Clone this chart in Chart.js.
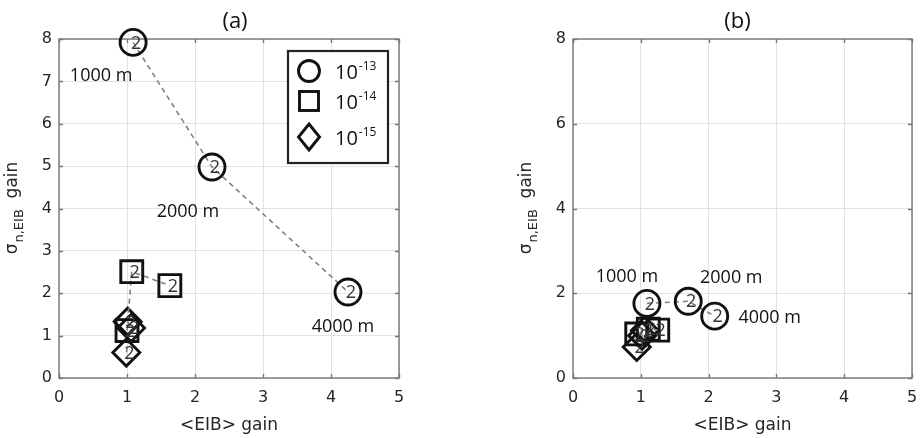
<!DOCTYPE html>
<html>
<head>
<meta charset="utf-8">
<script src="https://cdn.jsdelivr.net/npm/chart.js@4/dist/chart.umd.min.js"></script>
<style>
  html, body { margin: 0; padding: 0; background: #fff; }
  #wrap { position: relative; width: 921px; height: 438px; overflow: hidden; }
  canvas { position: absolute; top: 0; }
  #chartA { left: 0; }
  #chartB { left: 460px; }
</style>
</head>
<body>
<div id="wrap">
  <canvas id="chartA" width="460" height="438"></canvas>
  <canvas id="chartB" width="461" height="438"></canvas>
</div>
<script>
// ---- data ----
const distanceLabels = ['1000 m', '2000 m', '4000 m'];
const legendBase = '10';
const legendExponents = ['-13', '-14', '-15'];
const markerTag = '2';
const xTickValues = [0, 1, 2, 3, 4, 5];

// panel (a)
const aCircleX  = [1.09, 2.25, 4.25];
const aCircleY  = [7.92, 4.98, 2.03];
const aSquareX  = [1.00, 1.07, 1.63];
const aSquareY  = [1.12, 2.51, 2.18];
const aDiamondX = [1.01, 1.06, 0.99];
const aDiamondY = [1.33, 1.18, 0.60];
const aYStep = 1;

// panel (b)
const bCircleX  = [1.09, 1.70, 2.09];
const bCircleY  = [1.76, 1.81, 1.46];
const bSquareX  = [0.94, 1.11, 1.25];
const bSquareY  = [1.04, 1.15, 1.13];
const bDiamondX = [0.94, 1.02, 1.06];
const bDiamondY = [0.73, 1.00, 1.12];
const bYStep = 2;

// ---- styling / layout ----
const tickFont = { family: 'DejaVu Sans', size: 16 };
const titleFont = { family: 'DejaVu Sans', size: 17 };
const textColor = '#262626';
const boxColor = '#777777';
const gridColor = '#e2e2e2';
const labelOffsetsA = [[-32, 33], [-24, 45], [-5, 35]];
const labelOffsetsB = [[-20, -27], [43, -23], [55, 2]];

function pts(xs, ys) { return xs.map((x, i) => ({ x, y: ys[i] })); }

function series(xs, ys, style, radius) {
  return {
    data: pts(xs, ys),
    showLine: true,
    borderColor: '#808080',
    borderWidth: 1.6,
    borderDash: [5, 4],
    pointStyle: style,
    pointRadius: radius,
    pointHoverRadius: radius,
    pointBorderColor: '#111',
    pointBorderWidth: 2.9,
    pointBackgroundColor: 'rgba(255,255,255,0)',
    fill: false,
    clip: false
  };
}

// box, inward tick marks, title, y-axis title
const frame = {
  id: 'frame',
  beforeDatasetsDraw(chart, args, opts) {
    const { ctx, chartArea: a, scales } = chart;
    ctx.save();
    ctx.strokeStyle = boxColor;
    ctx.lineWidth = 1.4;
    ctx.strokeRect(a.left, a.top, a.right - a.left, a.bottom - a.top);
    ctx.beginPath();
    scales.x.ticks.forEach(t => {
      const px = Math.round(scales.x.getPixelForValue(t.value)) + 0.5;
      ctx.moveTo(px, a.bottom); ctx.lineTo(px, a.bottom - 4);
      ctx.moveTo(px, a.top); ctx.lineTo(px, a.top + 4);
    });
    scales.y.ticks.forEach(t => {
      const py = Math.round(scales.y.getPixelForValue(t.value)) + 0.5;
      ctx.moveTo(a.left, py); ctx.lineTo(a.left + 4, py);
      ctx.moveTo(a.right, py); ctx.lineTo(a.right - 4, py);
    });
    ctx.stroke();
    ctx.restore();
  },
  afterDraw(chart, args, opts) {
    const { ctx, chartArea: a } = chart;
    ctx.save();
    // panel title
    ctx.fillStyle = '#111';
    ctx.font = '22px "Open Sans"';
    ctx.textAlign = 'center';
    ctx.textBaseline = 'middle';
    ctx.fillText(opts.title, (a.left + a.right) / 2 + opts.titleShift, 22);
    // y-axis title: sigma_{n,EIB} gain, rotated
    const cy = (a.top + a.bottom) / 2;
    const cx = a.left - 42;
    ctx.translate(cx, cy);
    ctx.rotate(-Math.PI / 2);
    ctx.fillStyle = textColor;
    ctx.textAlign = 'left';
    ctx.textBaseline = 'alphabetic';
    const bigFont = '17px "DejaVu Sans"';
    const subFont = '13px "DejaVu Sans"';
    ctx.font = bigFont; const w1 = ctx.measureText('σ').width;
    ctx.font = subFont; const w2 = ctx.measureText('n,EIB').width;
    ctx.font = bigFont; const w3 = ctx.measureText('  gain').width;
    let x0 = -(w1 + w2 + w3) / 2;
    ctx.font = bigFont; ctx.fillText('σ', x0, 0); x0 += w1 + 1;
    ctx.font = subFont; ctx.fillText('n,EIB', x0, 6); x0 += w2;
    ctx.font = bigFont; ctx.fillText('  gain', x0, 0);
    ctx.restore();
  }
};

// tag inside each marker and distance labels next to the 10^-13 points
const annotate = {
  id: 'annotate',
  afterDatasetsDraw(chart, args, opts) {
    const { ctx } = chart;
    ctx.save();
    ctx.textBaseline = 'middle';
    ctx.textAlign = 'center';
    chart.data.datasets.forEach((ds, di) => {
      chart.getDatasetMeta(di).data.forEach(p => {
        ctx.font = '18px "Open Sans"';
        ctx.fillStyle = '#333';
        ctx.fillText(markerTag, p.x + 3, p.y + 1);
      });
    });
    const circles = chart.getDatasetMeta(0).data;
    ctx.font = '18px "Open Sans"';
    ctx.fillStyle = '#111';
    circles.forEach((p, i) => {
      const off = opts.offsets[i];
      ctx.fillText(distanceLabels[i], p.x + off[0], p.y + off[1]);
    });
    ctx.restore();
  }
};

// legend box drawn inside the plot area (panel a)
const legendBox = {
  id: 'legendBox',
  afterDraw(chart, args, opts) {
    if (!opts.show) return;
    const { ctx, chartArea: a } = chart;
    const bx = a.right - 111, by = a.top + 12, bw = 100, bh = 112;
    ctx.save();
    ctx.fillStyle = '#fff';
    ctx.fillRect(bx, by, bw, bh);
    ctx.strokeStyle = '#222';
    ctx.lineWidth = 2.2;
    ctx.strokeRect(bx, by, bw, bh);
    const rows = [by + 20, by + 50, by + 86];
    const mx = bx + 21;
    ctx.lineWidth = 2.9;
    ctx.strokeStyle = '#111';
    // circle
    ctx.beginPath(); ctx.arc(mx, rows[0], 10.5, 0, Math.PI * 2); ctx.stroke();
    // square
    ctx.strokeRect(mx - 9.5, rows[1] - 9.5, 19, 19);
    // diamond
    ctx.beginPath();
    ctx.moveTo(mx, rows[2] - 13); ctx.lineTo(mx + 10.5, rows[2]);
    ctx.lineTo(mx, rows[2] + 13); ctx.lineTo(mx - 10.5, rows[2]);
    ctx.closePath(); ctx.stroke();
    ctx.fillStyle = '#111';
    ctx.textBaseline = 'alphabetic';
    ctx.textAlign = 'left';
    rows.forEach((ry, i) => {
      ctx.font = '20px "Open Sans"';
      ctx.fillText(legendBase, bx + 47, ry + 8);
      const w = ctx.measureText(legendBase).width;
      ctx.font = '12px "Open Sans"';
      ctx.fillText(legendExponents[i], bx + 47 + w + 1, ry - 1);
    });
    ctx.restore();
  }
};

function makeChart(id, xs, ys, yStep, padding, offsets, title, titleShift, showLegend) {
  return new Chart(document.getElementById(id), {
    type: 'scatter',
    data: {
      datasets: [
        series(xs[0], ys[0], 'circle', 13),
        series(xs[1], ys[1], 'rect', 15.5),
        series(xs[2], ys[2], 'rectRot', 13.5)
      ]
    },
    options: {
      responsive: false,
      animation: false,
      devicePixelRatio: 1,
      layout: { padding, autoPadding: false },
      plugins: {
        legend: { display: false },
        tooltip: { enabled: false },
        frame: { title, titleShift },
        annotate: { offsets },
        legendBox: { show: showLegend }
      },
      scales: {
        x: {
          type: 'linear',
          min: 0, max: 5,
          afterBuildTicks: s => { s.ticks = xTickValues.map(v => ({ value: v })); },
          afterFit: s => { s.height = 60; s.paddingLeft = 0; s.paddingRight = 0; },
          ticks: { font: tickFont, color: textColor, padding: 10 },
          grid: { color: gridColor, drawTicks: false, lineWidth: 1 },
          border: { display: false },
          title: {
            display: true, text: '<EIB> gain', font: titleFont, color: textColor,
            padding: { top: 0, bottom: 2 }
          }
        },
        y: {
          type: 'linear',
          min: 0, max: 8,
          afterFit: s => { s.width = 59; s.paddingTop = 0; s.paddingBottom = 0; },
          ticks: { stepSize: yStep, font: tickFont, color: textColor, padding: 7 },
          grid: { color: gridColor, drawTicks: false, lineWidth: 1 },
          border: { display: false }
        }
      }
    },
    plugins: [frame, annotate, legendBox]
  });
}

makeChart('chartA',
  [aCircleX, aSquareX, aDiamondX], [aCircleY, aSquareY, aDiamondY],
  aYStep, { left: 0, top: 39, right: 61, bottom: 0 }, labelOffsetsA, '(a)', 6, true);

makeChart('chartB',
  [bCircleX, bSquareX, bDiamondX], [bCircleY, bSquareY, bDiamondY],
  bYStep, { left: 54, top: 39, right: 9, bottom: 0 }, labelOffsetsB, '(b)', -5, false);
</script>
</body>
</html>
